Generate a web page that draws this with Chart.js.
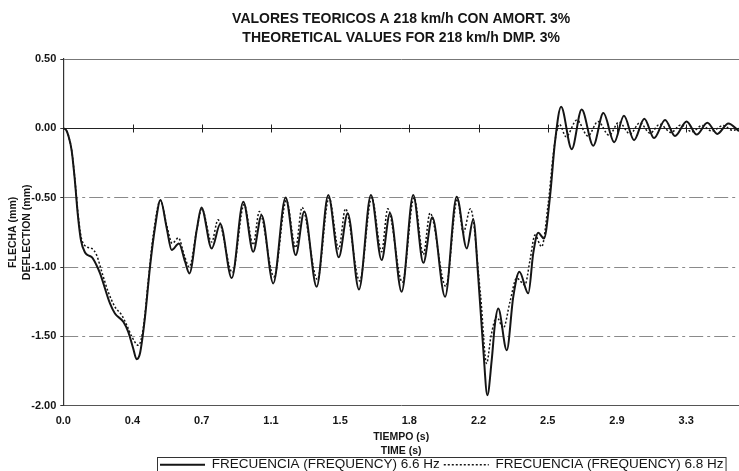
<!DOCTYPE html>
<html>
<head>
<meta charset="utf-8">
<script src="https://cdn.jsdelivr.net/npm/chart.js@4.4.1/dist/chart.umd.min.js"></script>
<style>
html, body { margin: 0; padding: 0; background: #ffffff; }
#wrap { width: 739px; height: 471px; }
</style>
</head>
<body>
<div id="wrap"><canvas id="c" width="739" height="471"></canvas></div>
<script>
// ---- text ----
const titleLines = ['VALORES TEORICOS A 218 km/h CON AMORT. 3%', 'THEORETICAL VALUES FOR 218 km/h DMP. 3%'];
const xTitleLines = ['TIEMPO (s)', 'TIME (s)'];
const yTitleLines = ['FLECHA (mm)', 'DEFLECTION (mm)'];
const seriesNames = ['FRECUENCIA (FREQUENCY) 6.6 Hz', 'FRECUENCIA (FREQUENCY) 6.8 Hz'];

// ---- axes ----
const xTickLabels = ['0.0', '0.4', '0.7', '1.1', '1.5', '1.8', '2.2', '2.5', '2.9', '3.3'];
const xTickStep = 0.3633;
const xMax = 3.547;
const yTickValues = [0.5, 0, -0.5, -1, -1.5, -2];

// ---- series: 6.6 Hz (solid) ----
const time66 = [0, 0.014, 0.026, 0.044, 0.061, 0.076, 0.093, 0.114, 0.130, 0.151, 0.172, 0.193, 0.245, 0.271, 0.315, 0.341, 0.367, 0.385, 0.403, 0.429, 0.455, 0.482, 0.510,
  0.543, 0.569, 0.607, 0.639, 0.662, 0.702, 0.725,
  0.779, 0.824, 0.884, 0.945,
  0.997, 1.041, 1.102, 1.167,
  1.220, 1.265, 1.330, 1.391,
  1.446, 1.493, 1.552, 1.615,
  1.671, 1.715, 1.776, 1.837,
  1.890, 1.937, 2.004, 2.065,
  2.118, 2.152, 2.178, 2.205, 2.226, 2.249, 2.266, 2.283, 2.328, 2.362, 2.394, 2.441, 2.467, 2.493, 2.523, 2.555, 2.581, 2.613,
  2.669, 2.721, 2.782, 2.835, 2.892, 2.943, 2.996, 3.050, 3.101, 3.159, 3.211, 3.272, 3.325, 3.381, 3.433, 3.491, 3.547];
const flecha66 = [0, -0.01, -0.05, -0.16, -0.38, -0.62, -0.81, -0.895, -0.915, -0.93, -0.98, -1.046, -1.263, -1.335, -1.395, -1.468, -1.587, -1.665, -1.62, -1.36, -1.0, -0.71, -0.517,
  -0.72, -0.878, -0.83, -0.96, -1.046, -0.72, -0.57,
  -0.866, -0.69, -1.08, -0.53,
  -0.89, -0.626, -1.118, -0.498,
  -0.914, -0.60, -1.143, -0.481,
  -0.93, -0.613, -1.162, -0.481,
  -0.95, -0.613, -1.179, -0.481,
  -0.97, -0.642, -1.215, -0.493,
  -0.866, -0.655, -1.07, -1.60, -1.924, -1.67, -1.41, -1.30, -1.60, -1.215, -1.035, -1.19, -0.90, -0.753, -0.794, -0.49, -0.10, 0.155,
  -0.15, 0.135, -0.125, 0.11, -0.10, 0.09, -0.085, 0.07, -0.07, 0.06, -0.055, 0.05, -0.045, 0.04, -0.04, 0.035, -0.02];

// ---- series: 6.8 Hz (dotted) ----
const time68 = [0, 0.014, 0.026, 0.044, 0.061, 0.076, 0.093, 0.124, 0.149, 0.175, 0.202, 0.236, 0.271, 0.307, 0.333, 0.359, 0.394, 0.420, 0.446, 0.472, 0.510,
  0.543, 0.572, 0.604, 0.636, 0.661, 0.702, 0.727,
  0.779, 0.812, 0.888, 0.949,
  0.997, 1.029, 1.106, 1.171,
  1.220, 1.253, 1.334, 1.395,
  1.446, 1.481, 1.556, 1.619,
  1.671, 1.703, 1.780, 1.841,
  1.890, 1.925, 2.008, 2.069,
  2.100, 2.137, 2.190, 2.222, 2.245, 2.275, 2.310, 2.345, 2.380, 2.423, 2.450, 2.476, 2.511, 2.545, 2.571, 2.586, 2.604,
  2.639, 2.696, 2.754, 2.807, 2.865, 2.917, 2.975, 3.027, 3.080, 3.132, 3.190, 3.242, 3.300, 3.353, 3.405, 3.463, 3.515, 3.547];
const flecha68 = [0, -0.01, -0.05, -0.16, -0.37, -0.60, -0.78, -0.855, -0.866, -0.914, -1.035, -1.18, -1.287, -1.347, -1.419, -1.50, -1.565, -1.44, -1.10, -0.77, -0.52,
  -0.70, -0.83, -0.79, -0.92, -1.00, -0.72, -0.58,
  -0.82, -0.66, -1.04, -0.55,
  -0.84, -0.60, -1.07, -0.52,
  -0.86, -0.57, -1.09, -0.50,
  -0.87, -0.58, -1.10, -0.50,
  -0.89, -0.58, -1.11, -0.50,
  -0.91, -0.61, -1.14, -0.51,
  -0.75, -0.58, -1.20, -1.695, -1.50, -1.36, -1.44, -1.25, -1.08, -1.13, -0.95, -0.77, -0.854, -0.55, -0.20, -0.05, 0.03,
  -0.06, 0.06, -0.055, 0.05, -0.05, 0.045, -0.04, 0.04, -0.035, 0.03, -0.03, 0.025, -0.025, 0.02, -0.02, 0.02, -0.015, 0.0];

const FONT = "'Liberation Sans', Arial, sans-serif";
const INK = '#151515';

function pts(t, v) { return t.map((x, i) => ({ x: x, y: v[i] })); }

const placeBlocks = {
  id: 'placeBlocks',
  afterLayout(chart) {
    const a = chart.chartArea;
    if (chart.titleBlock) { chart.titleBlock.left = a.left; chart.titleBlock.right = a.right; }
    const lg = chart.legend;
    if (lg) { lg.left = 156; lg.right = 739; lg.top = 454; }
  },
  beforeDatasetsDraw(chart) {
    const xs = chart.scales.x, ys = chart.scales.y, ctx = chart.ctx;
    const y0 = Math.round(ys.getPixelForValue(0)) + 0.5;
    ctx.save();
    ctx.strokeStyle = '#222';
    ctx.lineWidth = 1;
    xs.ticks.forEach((t, i) => {
      if (i === 0) return;
      const px = Math.round(xs.getPixelForValue(t.value)) + 0.5;
      ctx.beginPath(); ctx.moveTo(px, y0 - 4); ctx.lineTo(px, y0 + 4); ctx.stroke();
    });
    ctx.restore();
  },
  afterDraw(chart) {
    const lg = chart.legend, ctx = chart.ctx;
    const pad = lg.options.labels.padding;
    const w = lg.lineWidths[0] - pad + 5;
    ctx.save();
    ctx.strokeStyle = '#333';
    ctx.lineWidth = 1;
    ctx.strokeRect(157.5, 457.5, w, 14);
    ctx.restore();
  }
};

new Chart(document.getElementById('c'), {
  type: 'line',
  data: {
    datasets: [
      { label: seriesNames[0], data: pts(time66, flecha66), borderColor: INK, backgroundColor: 'rgba(0,0,0,0)', borderWidth: 2, pointRadius: 0, cubicInterpolationMode: 'monotone', fill: false },
      { label: seriesNames[1], data: pts(time68, flecha68), borderColor: INK, backgroundColor: 'rgba(0,0,0,0)', borderWidth: 1.5, borderDash: [2, 2], pointRadius: 0, cubicInterpolationMode: 'monotone', fill: false }
    ]
  },
  options: {
    responsive: false,
    animation: false,
    devicePixelRatio: 1,
    layout: { padding: 0 },
    plugins: {
      tooltip: { enabled: false },
      title: {
        display: true,
        text: titleLines,
        color: INK,
        font: { family: FONT, size: 14, weight: 'bold', lineHeight: 1.35 },
        padding: { top: 10, bottom: 11.2 }
      },
      legend: {
        display: true,
        position: 'bottom',
        align: 'start',
        maxHeight: 14,
        labels: {
          color: INK,
          font: { family: FONT, size: 13.5 },
          boxWidth: 45,
          boxHeight: 0,
          padding: 4
        }
      }
    },
    scales: {
      x: {
        type: 'linear',
        position: 'bottom',
        min: 0,
        max: xMax,
        afterBuildTicks(scale) { scale.ticks = xTickLabels.map((l, i) => ({ value: i * xTickStep })); },
        afterFit(scale) { scale.height = 457 - 405.7; },
        ticks: {
          autoSkip: false, maxRotation: 0, padding: 9, color: INK,
          font: { family: FONT, size: 11, weight: 'bold' },
          callback(v, i) { return xTickLabels[i]; }
        },
        grid: { display: false, drawTicks: false },
        border: { display: true, color: '#555', width: 1 },
        title: {
          display: true, text: xTitleLines, color: INK,
          font: { family: FONT, size: 10.5, weight: 'bold', lineHeight: 1.33 },
          padding: { top: 0, bottom: -1 }
        }
      },
      y: {
        type: 'linear',
        min: -2,
        max: 0.5,
        afterBuildTicks(scale) { scale.ticks = yTickValues.map(v => ({ value: v })); },
        afterFit(scale) { scale.width = 63.3; },
        ticks: {
          padding: 4, color: INK,
          font: { family: FONT, size: 11, weight: 'bold' },
          callback(v) { return v.toFixed(2); }
        },
        grid: {
          drawTicks: true, tickLength: 3, tickColor: '#333', lineWidth: 1,
          color(ctx) {
            const v = ctx.tick ? ctx.tick.value : null;
            if (v === 0) return '#222';
            if (v === 0.5) return '#777';
            if (v === -2) return 'rgba(0,0,0,0)';
            return '#8a8a8a';
          }
        },
        border: {
          display: true, color: '#333', width: 1.2,
          dash(ctx) {
            const v = ctx.tick ? ctx.tick.value : null;
            return (v === -0.5 || v === -1 || v === -1.5) ? [14, 4, 3, 4] : [];
          }
        },
        title: {
          display: true, text: yTitleLines, color: INK,
          font: { family: FONT, size: 10.5, weight: 'bold', lineHeight: 1.33 },
          padding: { top: 6, bottom: 0 }
        }
      }
    }
  },
  plugins: [placeBlocks]
});
</script>
</body>
</html>
